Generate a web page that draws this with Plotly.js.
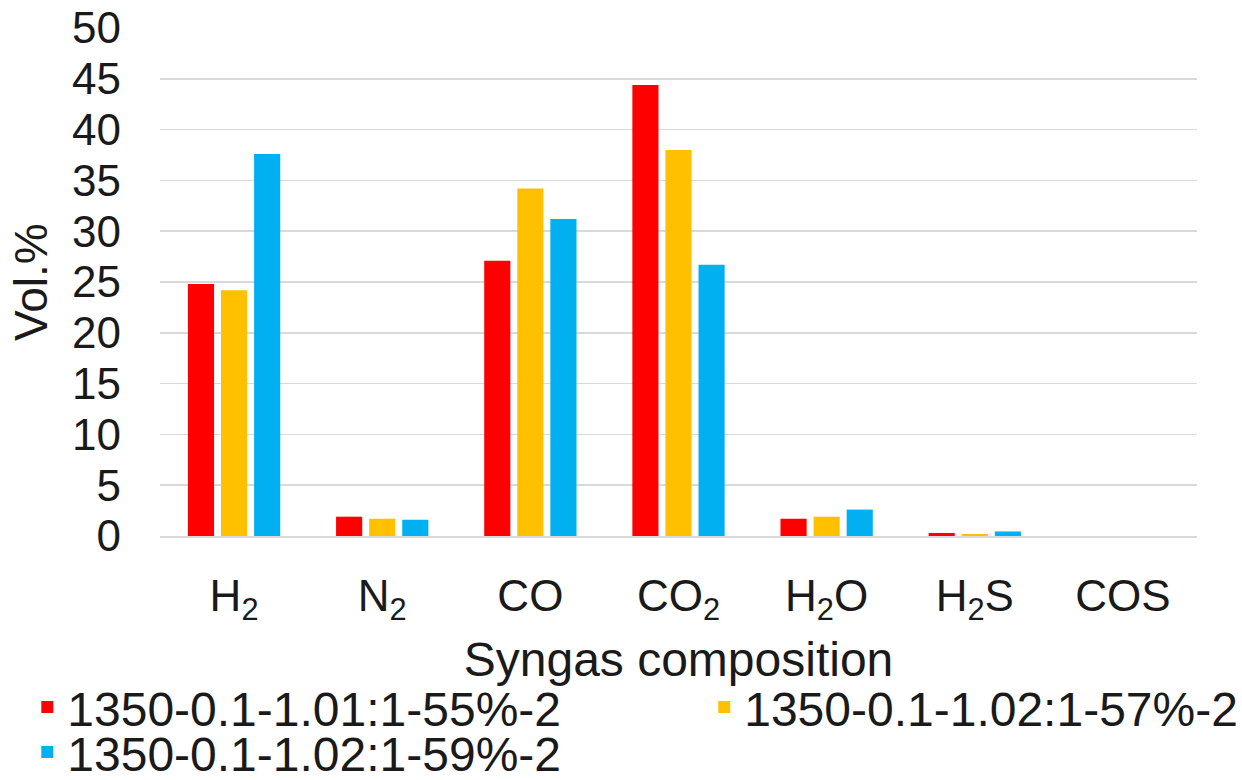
<!DOCTYPE html>
<html>
<head>
<meta charset="utf-8">
<script src="https://cdn.plot.ly/plotly-3.0.1.min.js"></script>
<style>html,body{margin:0;padding:0;background:#fff;}#chart{width:1242px;height:780px;}</style>
</head>
<body>
<div id="chart"></div>
<script>
const categories = ["H<sub>2</sub>", "N<sub>2</sub>", "CO", "CO<sub>2</sub>", "H<sub>2</sub>O", "H<sub>2</sub>S", "COS"];
const seriesNames = ["1350-0.1-1.01:1-55%-2", "1350-0.1-1.02:1-57%-2", "1350-0.1-1.02:1-59%-2"];
const series55 = [24.8, 1.9, 27.1, 44.4, 1.7, 0.3, 0.0];
const series57 = [24.2, 1.7, 34.2, 38.0, 1.9, 0.2, 0.0];
const series59 = [37.6, 1.6, 31.2, 26.7, 2.6, 0.45, 0.0];
const colors = ["#FF0000", "#FFC000", "#00B0F0"];
const yTicks = [0, 5, 10, 15, 20, 25, 30, 35, 40, 45, 50];
const yTitle = "Vol.%";
const xTitle = "Syngas composition";

const allSeries = [series55, series57, series59];
const legendIds = ["legend", "legend2", "legend3"];
const traces = allSeries.map((vals, i) => ({
  type: "bar",
  name: seriesNames[i],
  x: categories,
  y: vals,
  marker: {color: colors[i]},
  legend: legendIds[i],
  hoverinfo: "skip"
}));

const fam = "Liberation Sans, Arial, sans-serif";
const txt = "#1a1a1a";
const legendBase = {
  orientation: "v",
  xref: "container",
  yref: "container",
  xanchor: "left",
  yanchor: "top",
  font: {family: fam, size: 48, color: txt},
  bgcolor: "rgba(0,0,0,0)"
};

const layout = {
  width: 1242,
  height: 780,
  margin: {l: 160, r: 45, t: 28, b: 244, autoexpand: false},
  paper_bgcolor: "#fff",
  plot_bgcolor: "#fff",
  font: {family: fam, size: 44, color: txt},
  barmode: "group",
  bargap: 0.33,
  bargroupgap: 0.21,
  showlegend: true,
  xaxis: {
    type: "category",
    tickfont: {family: fam, size: 44, color: txt},
    tickangle: 0,
    ticks: "",
    ticklabelstandoff: 20,
    showline: true,
    linecolor: "#d9d9d9",
    linewidth: 2,
    showgrid: false,
    title: {text: xTitle, font: {family: fam, size: 48, color: txt}, standoff: 16}
  },
  yaxis: {
    range: [0, 50],
    tickvals: yTicks,
    ticktext: yTicks.map(String),
    tickfont: {family: fam, size: 44, color: txt},
    ticks: "",
    ticklabelstandoff: 38,
    showgrid: true,
    gridcolor: "#d9d9d9",
    gridwidth: 1.5,
    zeroline: false,
    showline: false
  },
  annotations: [{
    text: yTitle,
    xref: "paper",
    yref: "paper",
    x: -0.1244,
    y: 0.5,
    xanchor: "center",
    yanchor: "middle",
    textangle: -90,
    showarrow: false,
    font: {family: fam, size: 46, color: txt}
  }],
  legend: Object.assign({}, legendBase, {x: 0.022, y: 0.142}),
  legend2: Object.assign({}, legendBase, {x: 0.567, y: 0.142}),
  legend3: Object.assign({}, legendBase, {x: 0.022, y: 0.142 - 45 / 780})
};

Plotly.newPlot("chart", traces, layout, {displayModeBar: false, staticPlot: true});
</script>
</body>
</html>
